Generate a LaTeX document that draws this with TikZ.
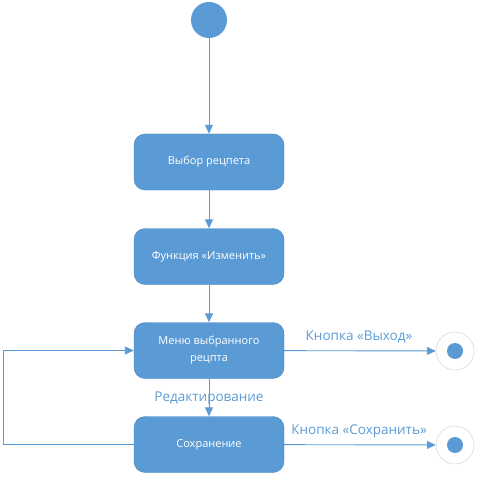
\documentclass[tikz,border=0pt]{standalone}
\usepackage{fontspec}
\setmainfont{Open Sans}
\usetikzlibrary{arrows.meta}
\definecolor{boxblue}{RGB}{91,155,213}
\definecolor{boxedge}{RGB}{72,132,190}
\definecolor{ringgray}{RGB}{205,205,205}

\begin{document}
\begin{tikzpicture}[x=1pt,y=-1pt,
	state/.style={draw=boxedge,fill=boxblue,rounded corners=11pt,minimum width=150pt,minimum height=56pt,inner sep=0pt,text=white,align=center,font=\fontsize{11}{17}\selectfont},
	flow/.style={draw=boxblue,line width=0.9pt,-{Triangle[length=9pt,width=8pt]}},
	guard/.style={text=boxblue,font=\fontsize{13.5}{16}\selectfont,inner sep=0pt}]
	\useasboundingbox (0,0) rectangle (478,481);
	% start
	\node [circle,fill=boxblue,minimum size=36pt,inner sep=0pt] (start) at (209,20) {};
	% states
	\node [state] (choose) at (209,162) {Выбор рецпета};
	\node [state] (edit) at (209,256.5) {Функция «Изменить»};
	\node [state] (menu) at (209,350.5) {Меню выбранного\\рецпта};
	\node [state] (save) at (209,444.5) {Сохранение};
	% ends
	\node [circle,draw=ringgray,fill=white,minimum size=38pt,inner sep=0pt] (exit) at (455,351) {};
	\node [circle,fill=boxblue,minimum size=16pt,inner sep=0pt] at (exit) {};
	\node [circle,draw=ringgray,fill=white,minimum size=38pt,inner sep=0pt] (done) at (455,445) {};
	\node [circle,fill=boxblue,minimum size=16pt,inner sep=0pt] at (done) {};
	\coordinate (corner) at (3,444.5);
	% transitions
	\draw [flow] (start) -- (choose);
	\draw [flow] (choose) -- (edit);
	\draw [flow] (edit) -- (menu);
	\draw [flow] (menu) -- (save);
	\draw [flow] (menu) -- (exit);
	\draw [flow] (save) -- (done);
	\draw [flow] (save.west) -- (corner) |- (menu.west);
	% labels
	\node [guard] at (359,337) {Кнопка «Выход»};
	\node [guard] at (359,431) {Кнопка «Сохранить»};
	\node [guard] at (209,398) {Редактирование};
\end{tikzpicture}
\end{document}
